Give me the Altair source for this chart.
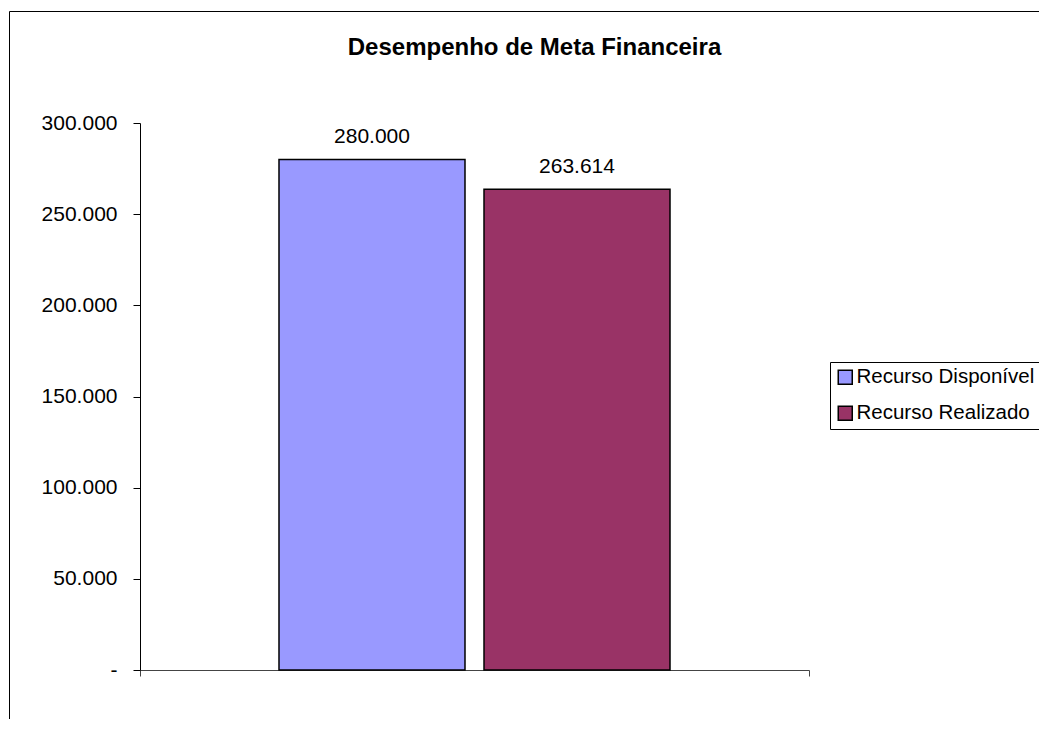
import altair as alt
import pandas as pd

# ---- data ----
series = ["Recurso Disponível", "Recurso Realizado"]
values = [280000, 263614]
colors = ["#9999FF", "#993366"]
y_ticks = [0, 50000, 100000, 150000, 200000, 250000, 300000]
title_text = "Desempenho de Meta Financeira"

df = pd.DataFrame({
    "grupo": ["Meta"] * len(series),
    "serie": series,
    "valor": values,
    "rotulo": [f"{v:,}".replace(",", ".") for v in values],
})

FONT = "Liberation Sans"
W, H = 669, 547

base = alt.Chart(df)

x_enc = alt.X("grupo:N", title=None,
              scale=alt.Scale(paddingInner=0, paddingOuter=0),
              axis=alt.Axis(labels=False, ticks=True, tickBand="extent", tickSize=6,
                            domainColor="#444444", tickColor="#444444",
                            domainWidth=1.2, title=None))
xoff_enc = alt.XOffset("serie:N", sort=series,
                       scale=alt.Scale(paddingInner=0.0927, paddingOuter=0.678))
y_enc = alt.Y("valor:Q", title=None,
              scale=alt.Scale(domain=[0, 300000], nice=False),
              axis=alt.Axis(values=y_ticks, grid=False, tickSize=7, labelPadding=16,
                            labelFont=FONT, labelFontSize=21, labelColor="black",
                            domainColor="black", tickColor="black",
                            labelExpr="datum.value == 0 ? '-' : replace(format(datum.value, ','), ',', '.')"))

bars = base.mark_bar(stroke="black", strokeWidth=1.5).encode(
    x=x_enc,
    xOffset=xoff_enc,
    y=y_enc,
    color=alt.Color("serie:N", sort=series,
                    scale=alt.Scale(domain=series, range=colors),
                    legend=alt.Legend(orient="none", legendX=690, legendY=239, title=None,
                                      strokeColor="black", fillColor="white", padding=5,
                                      symbolType="square", symbolSize=196,
                                      symbolStrokeColor="black", symbolStrokeWidth=1.5,
                                      labelFont=FONT, labelFontSize=20.5, labelColor="black",
                                      rowPadding=15, labelOffset=1, labelLimit=400)),
)

labels = base.mark_text(font=FONT, fontSize=21, color="black", baseline="alphabetic", dy=-16).encode(
    x=alt.X("grupo:N"),
    xOffset=alt.XOffset("serie:N", sort=series),
    y=alt.Y("valor:Q"),
    text="rotulo:N",
)

border = alt.Chart(alt.Data(values=[{"k": 1}])).mark_rect(
    fill="transparent", stroke="black", strokeWidth=1
).encode(
    x=alt.value(-130.5), x2=alt.value(1000),
    y=alt.value(-111.5), y2=alt.value(800),
)

title = alt.Chart(alt.Data(values=[{"t": title_text}])).mark_text(
    font=FONT, fontSize=24, fontWeight="bold", color="black", baseline="alphabetic", align="center"
).encode(
    x=alt.value(394.5), y=alt.value(-68), text="t:N",
)

chart = alt.layer(border, bars, labels, title).properties(
    width=W, height=H,
    autosize=alt.AutoSizeParams(type="none"),
    padding={"left": 132, "top": 115, "right": 230, "bottom": 49},
    background="white",
).configure_view(strokeWidth=0)

chart.save("out.html", embed_options={"renderer": "svg", "actions": False})
